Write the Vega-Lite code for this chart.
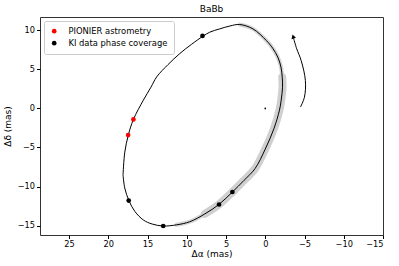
{
  "$schema": "https://vega.github.io/schema/vega-lite/v6.json",
  "width": 343,
  "height": 218,
  "autosize": {"type": "none"},
  "padding": {"left": 40, "top": 17, "right": 16, "bottom": 31},
  "background": "white",
  "title": {"text": "BaBb", "fontSize": 9, "fontWeight": "normal", "font": "DejaVu Sans", "color": "black", "offset": 3},
  "config": {
    "view": {"stroke": "#333", "strokeWidth": 1},
    "axis": {
      "grid": false, "domain": false, "tickColor": "black", "tickSize": 3.5,
      "labelFont": "DejaVu Sans", "labelFontSize": 8.2, "labelColor": "black", "labelPadding": 2,
      "titleFont": "DejaVu Sans", "titleFontSize": 9, "titleFontWeight": "normal", "titleColor": "black"
    },
    "legend": {"labelFont": "DejaVu Sans", "labelFontSize": 8.4, "labelColor": "black"}
  },
  "datasets": {
    "orbit": [
      {"order": 1, "x": 18.12, "y": -8.5},
      {"order": 2, "x": 17.9, "y": -5.6},
      {"order": 3, "x": 17.44, "y": -3.38},
      {"order": 4, "x": 16.8, "y": -1.41},
      {"order": 5, "x": 15.53, "y": 1.06},
      {"order": 6, "x": 14.56, "y": 2.72},
      {"order": 7, "x": 13.83, "y": 4.04},
      {"order": 8, "x": 12.4, "y": 5.6},
      {"order": 9, "x": 10.88, "y": 7.03},
      {"order": 10, "x": 9.4, "y": 8.2},
      {"order": 11, "x": 7.92, "y": 9.25},
      {"order": 12, "x": 7.07, "y": 9.76},
      {"order": 13, "x": 5.8, "y": 10.18},
      {"order": 14, "x": 4.5, "y": 10.55},
      {"order": 15, "x": 3.26, "y": 10.74},
      {"order": 16, "x": 1.57, "y": 10.18},
      {"order": 17, "x": -0.13, "y": 8.7},
      {"order": 18, "x": -0.95, "y": 7.7},
      {"order": 19, "x": -1.6, "y": 6.56},
      {"order": 20, "x": -2.0, "y": 5.3},
      {"order": 21, "x": -2.16, "y": 4.0},
      {"order": 22, "x": -2.2, "y": 2.72},
      {"order": 23, "x": -2.03, "y": 1.06},
      {"order": 24, "x": -1.81, "y": -0.22},
      {"order": 25, "x": -1.1, "y": -2.6},
      {"order": 26, "x": 0.0, "y": -5.2},
      {"order": 27, "x": 1.3, "y": -7.7},
      {"order": 28, "x": 2.7, "y": -9.2},
      {"order": 29, "x": 4.19, "y": -10.7},
      {"order": 30, "x": 5.89, "y": -12.28},
      {"order": 31, "x": 7.7, "y": -13.5},
      {"order": 32, "x": 9.61, "y": -14.5},
      {"order": 33, "x": 11.3, "y": -14.9},
      {"order": 34, "x": 13.0, "y": -15.05},
      {"order": 35, "x": 14.4, "y": -14.8},
      {"order": 36, "x": 15.53, "y": -14.28},
      {"order": 37, "x": 16.6, "y": -13.2},
      {"order": 38, "x": 17.35, "y": -11.85},
      {"order": 39, "x": 17.9, "y": -10.2},
      {"order": 40, "x": 18.12, "y": -8.5}
    ],
    "arrow": [
      {"order": 1, "x": -4.48, "y": 0.17},
      {"order": 2, "x": -4.99, "y": 1.44},
      {"order": 3, "x": -5.11, "y": 3.58},
      {"order": 4, "x": -4.57, "y": 6.14},
      {"order": 5, "x": -4.01, "y": 7.62},
      {"order": 6, "x": -3.6, "y": 9.0}
    ],
    "head": [{"x": -3.55, "y": 9.2}],
    "origin": [{"x": 0, "y": 0}],
    "points": [
      {"x": 16.8, "y": -1.41, "type": "PIONIER astrometry"},
      {"x": 17.47, "y": -3.41, "type": "PIONIER astrometry"},
      {"x": 8.0, "y": 9.28, "type": "KI data phase coverage"},
      {"x": 17.4, "y": -11.8, "type": "KI data phase coverage"},
      {"x": 13.0, "y": -15.05, "type": "KI data phase coverage"},
      {"x": 5.89, "y": -12.3, "type": "KI data phase coverage"},
      {"x": 4.19, "y": -10.7, "type": "KI data phase coverage"}
    ]
  },
  "encoding": {
    "x": {"field": "x", "type": "quantitative",
      "scale": {"domain": [-15, 28.7], "reverse": true, "nice": false, "zero": false},
      "axis": {"values": [25, 20, 15, 10, 5, 0, -5, -10, -15], "title": "Δα (mas)", "titlePadding": 2}},
    "y": {"field": "y", "type": "quantitative",
      "scale": {"domain": [-16.2, 11.7], "nice": false, "zero": false},
      "axis": {"values": [-15, -10, -5, 0, 5, 10], "title": "Δδ (mas)", "titlePadding": 5}}
  },
  "layer": [
    {
      "data": {"name": "orbit"},
      "transform": [{"filter": "datum.order >= 15 && datum.order <= 33"}],
      "mark": {"type": "line", "color": "#d4d4d4", "strokeWidth": 4, "strokeCap": "round", "interpolate": "catmull-rom"},
      "encoding": {"order": {"field": "order"}}
    },
    {
      "data": {"name": "orbit"},
      "transform": [{"filter": "datum.order >= 21 && datum.order <= 31"}],
      "mark": {"type": "line", "color": "#d0d0d0", "strokeWidth": 8, "strokeCap": "round", "interpolate": "catmull-rom"},
      "encoding": {"order": {"field": "order"}}
    },
    {
      "data": {"name": "orbit"},
      "mark": {"type": "line", "color": "black", "strokeWidth": 1, "interpolate": "catmull-rom"},
      "encoding": {"order": {"field": "order"}}
    },
    {
      "data": {"name": "arrow"},
      "mark": {"type": "line", "color": "black", "strokeWidth": 1, "interpolate": "catmull-rom"},
      "encoding": {"order": {"field": "order"}}
    },
    {
      "data": {"name": "head"},
      "mark": {"type": "point", "shape": "triangle-up", "filled": true, "color": "black", "size": 22, "angle": -17, "opacity": 1}
    },
    {
      "data": {"name": "origin"},
      "mark": {"type": "point", "filled": true, "color": "black", "size": 3, "opacity": 1}
    },
    {
      "data": {"name": "points"},
      "mark": {"type": "point", "filled": true, "size": 22, "opacity": 1},
      "encoding": {
        "color": {"field": "type", "type": "nominal",
          "scale": {"domain": ["PIONIER astrometry", "KI data phase coverage"], "range": ["red", "black"]},
          "legend": {"title": null, "orient": "none", "legendX": 4, "legendY": 4,
            "fillColor": "white", "strokeColor": "#cccccc", "cornerRadius": 2, "padding": 6,
            "symbolSize": 22, "symbolType": "circle", "symbolStrokeWidth": 0, "rowPadding": 3, "labelOffset": 10}}
      }
    }
  ]
}
